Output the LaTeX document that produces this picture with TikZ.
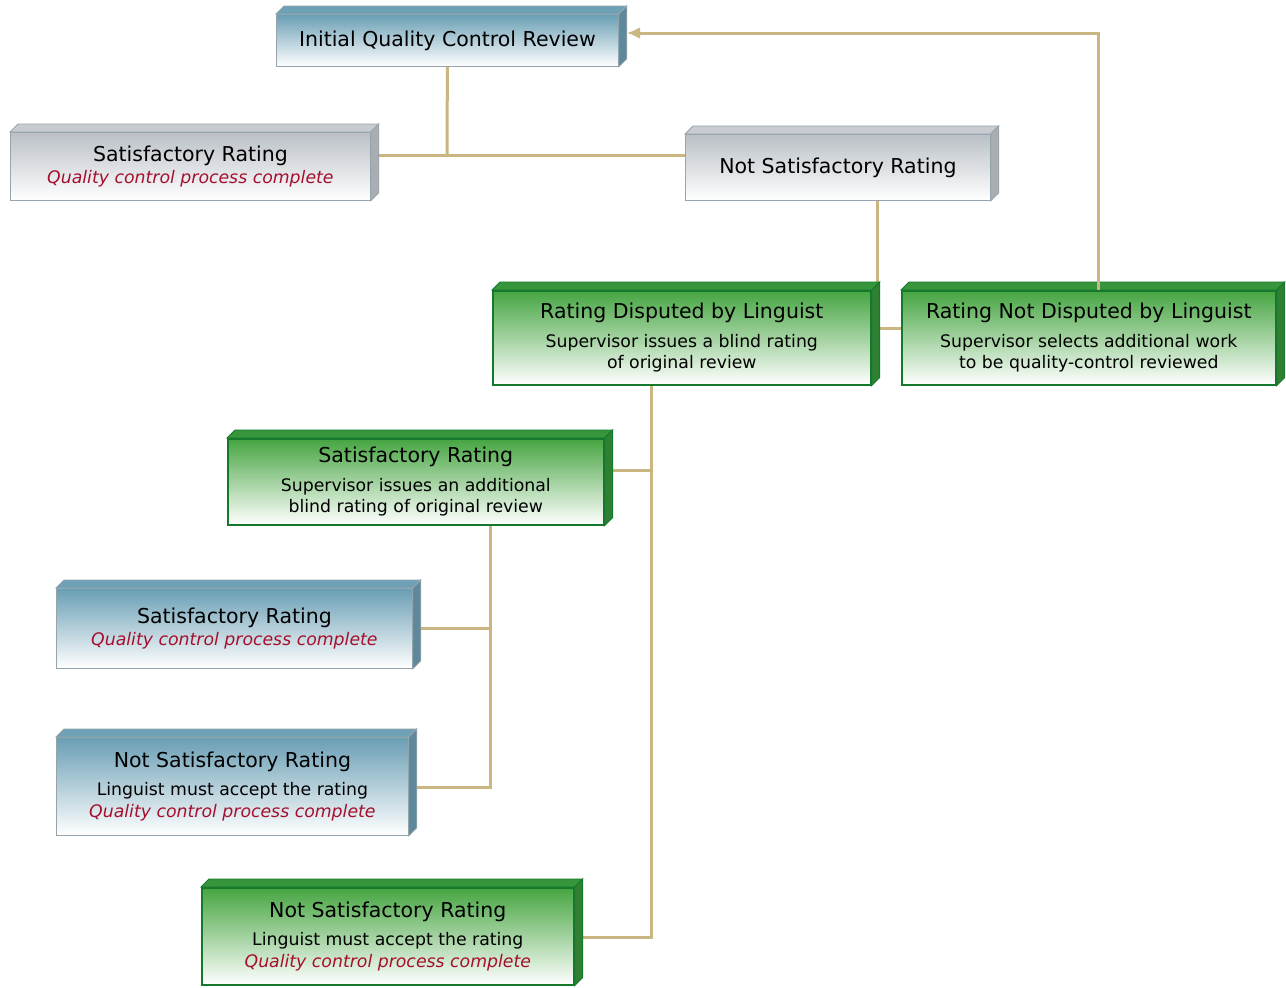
\documentclass[tikz,border=0pt]{standalone}
\usepackage{fontspec}
\setmainfont{DejaVu Sans}
\usetikzlibrary{arrows.meta}
\definecolor{connc}{RGB}{201,182,128}
\definecolor{grn}{RGB}{70,165,65}
\definecolor{grnd}{RGB}{20,120,45}
\definecolor{grnside}{RGB}{55,150,60}
\definecolor{blu}{RGB}{105,158,180}
\definecolor{bluside}{RGB}{110,160,182}
\definecolor{gry}{RGB}{186,192,198}
\definecolor{gryside}{RGB}{200,204,208}
\definecolor{edgec}{RGB}{150,165,172}
\definecolor{qred}{RGB}{165,15,45}
\pgfdeclarelayer{bg}
\pgfsetlayers{bg,main}
\newcommand\hd[1]{{\fontsize{20.5}{23}\selectfont #1}}
\newcommand\qc{\textcolor{qred}{\itshape Quality control process complete}}
\newcommand\threed[3]{%
  \fill[#2,draw=#3,line width=0.8pt] (#1.north west) -- ([xshift=8pt,yshift=8pt]#1.north west) -- ([xshift=8pt,yshift=8pt]#1.north east) -- (#1.north east) -- cycle;
  \fill[#2!85!black,draw=#3,line width=0.8pt] (#1.north east) -- ([xshift=8pt,yshift=8pt]#1.north east) -- ([xshift=8pt,yshift=8pt]#1.south east) -- (#1.south east) -- cycle;
}
\tikzset{
  boxbase/.style={anchor=north west, align=center, inner sep=0pt,
    font=\fontsize{17.3}{21.5}\selectfont},
  gbox/.style={boxbase, draw=grnd, line width=1.6pt, top color=grn, middle color=grn!45, bottom color=white},
  bbox/.style={boxbase, draw=edgec, line width=0.8pt, top color=blu, middle color=blu!35, bottom color=white},
  ybox/.style={boxbase, draw=edgec, line width=0.8pt, top color=gry, middle color=gry!55, bottom color=white},
  conn/.style={draw=connc, line width=3pt},
}
\begin{document}
\begin{tikzpicture}[x=1pt,y=-1pt]
\begin{pgfonlayer}{bg}
\fill[white] (0,0) rectangle (1286,988);
\end{pgfonlayer}
\useasboundingbox (0,0) rectangle (1286,988);
% boxes
\node[bbox, minimum width=342pt, minimum height=52pt] (init) at (276,14) {\hd{Initial Quality Control Review}};
\threed{init}{bluside}{edgec}
\node[ybox, minimum width=360pt, minimum height=68pt] (sat1) at (10,132) {\hd{Satisfactory Rating}\\[0pt]\qc};
\threed{sat1}{gryside}{edgec}
\node[ybox, minimum width=305pt, minimum height=66pt] (nsat1) at (685,134) {\hd{Not Satisfactory Rating}};
\threed{nsat1}{gryside}{edgec}
\node[gbox, minimum width=378pt, minimum height=94pt] (disp) at (492,290) {\hd{Rating Disputed by Linguist}\\[7pt]Supervisor issues a blind rating\\of original review};
\threed{disp}{grnside}{grnd}
\node[gbox, minimum width=374pt, minimum height=94pt] (ndisp) at (901,290) {\hd{Rating Not Disputed by Linguist}\\[7pt]Supervisor selects additional work\\to be quality-control reviewed};
\threed{ndisp}{grnside}{grnd}
\node[gbox, minimum width=376pt, minimum height=86pt] (sat2) at (227,438) {\hd{Satisfactory Rating}\\[7pt]Supervisor issues an additional\\blind rating of original review};
\threed{sat2}{grnside}{grnd}
\node[bbox, minimum width=356pt, minimum height=80pt] (sat3) at (56,588) {\hd{Satisfactory Rating}\\[0pt]\qc};
\threed{sat3}{bluside}{edgec}
\node[bbox, minimum width=352pt, minimum height=98pt] (nsat2) at (56,737) {\hd{Not Satisfactory Rating}\\[7pt]Linguist must accept the rating\\\qc};
\threed{nsat2}{bluside}{edgec}
\node[gbox, minimum width=372pt, minimum height=97pt] (nsat3) at (201,887) {\hd{Not Satisfactory Rating}\\[7pt]Linguist must accept the rating\\\qc};
\threed{nsat3}{grnside}{grnd}
% connector coordinates
\coordinate (j1) at (447,155);
\coordinate (j2) at (877,328);
\coordinate (j3) at (1098,33);
\coordinate (j3t) at (627,33);
\coordinate (t1) at (651,937);
\coordinate (t1b) at (651,470);
\coordinate (t2) at (490,787);
\coordinate (t2b) at (490,628);
\begin{pgfonlayer}{bg}
\draw[conn] (init.south) -- (j1);
\draw[conn] (sat1.east |- j1) -- (nsat1.west |- j1);
\draw[conn] (nsat1.south -| j2) -- (j2) -- (ndisp.west |- j2);
\draw[conn] (disp.south -| t1) -- (t1) -- (nsat3.east |- t1);
\draw[conn] (sat2.east |- t1b) -- (t1b);
\draw[conn] (sat2.south -| t2) -- (t2) -- (nsat2.east |- t2);
\draw[conn] (sat3.east |- t2b) -- (t2b);
\end{pgfonlayer}
\draw[conn, -{Latex[length=13pt,width=12pt]}] (ndisp.north -| j3) -- (j3) -- (j3t);
\end{tikzpicture}
\end{document}
